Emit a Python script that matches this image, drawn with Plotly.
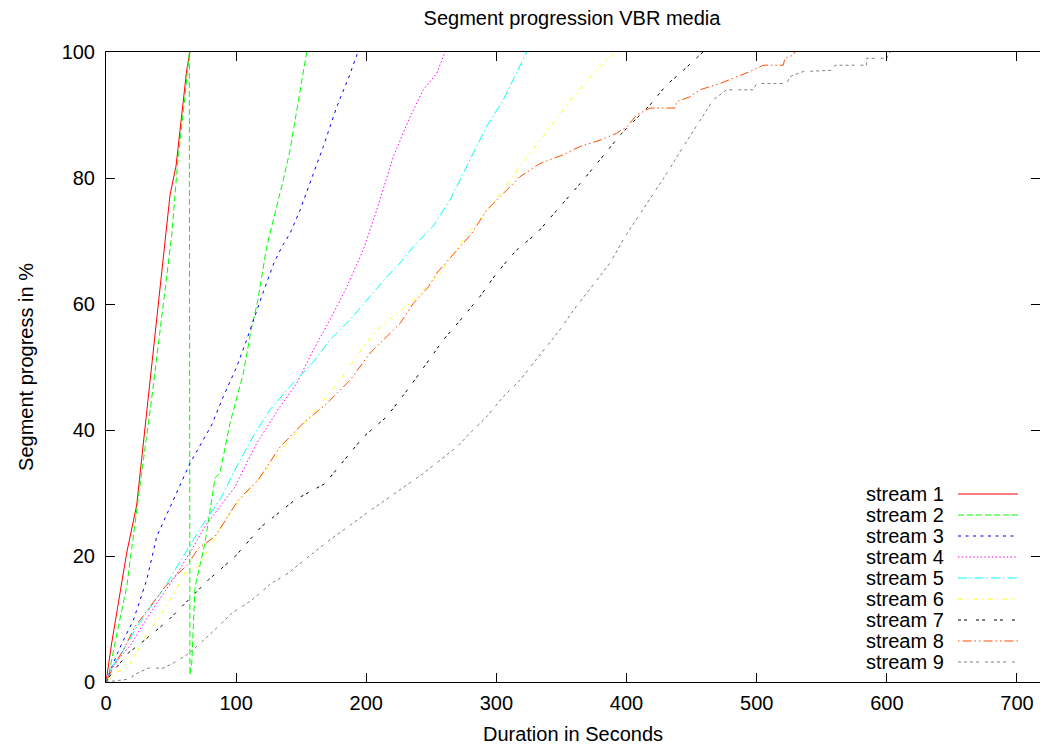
import plotly.graph_objects as go

# ---------------- data ----------------
names = ["stream 1", "stream 2", "stream 3", "stream 4", "stream 5",
         "stream 6", "stream 7", "stream 8", "stream 9"]

s1_x = [0, 0.5, 4.4, 15.9, 23.6, 32.3, 45.3, 49.2, 53.8, 62.0, 64.5]
s1_y = [0, 0.8, 6.2, 20.5, 28.1, 44.8, 70.2, 77.3, 81.9, 97.1, 100]

s2_x = [0, 1.8, 6.9, 15.9, 27.4, 35.0, 50.4, 54.8, 60.7, 63.2, 64.0, 64.5,
        65.9, 68.4, 76.1, 83.8, 87.6, 95.3, 105.5, 111.9, 116.3, 123.5, 131.2,
        136.2, 141.4, 147.8, 154.2]
s2_y = [0, 0.8, 6.2, 15.1, 33.2, 44.8, 70.7, 81.8, 92.9, 98.7, 100, 1.1,
        3.0, 15.1, 22.1, 32.4, 33.2, 41.1, 49.0, 56.3, 60.2, 69.1, 75.4,
        79.7, 84.4, 92.4, 100]

s3_x = [0, 1.8, 5.6, 12.1, 21.0, 31.3, 39.0, 59.4, 64.5, 81.2, 90.1, 100.4,
        108.1, 120.5, 129.0, 135.5, 141.4, 149.1, 156.8, 167.0, 177.3, 186.2, 193.6]
s3_y = [0, 0.8, 3.0, 6.1, 9.8, 16.2, 23.1, 32.6, 34.7, 40.8, 45.3, 50.0,
        54.3, 61.7, 66.5, 69.2, 71.2, 74.9, 79.2, 85.0, 91.3, 95.8, 100]

s4_x = [0, 1.8, 6.9, 19.7, 27.4, 39.0, 53.0, 65.9, 76.1, 99.1, 115.8, 133.7,
        146.5, 159.3, 172.1, 185.0, 197.7, 208.0, 220.8, 233.6, 243.8, 254.1, 260.5]
s4_y = [0, 1.4, 3.0, 6.1, 8.8, 12.5, 16.7, 21.0, 24.7, 31.0, 37.9, 43.7,
        47.4, 52.7, 57.5, 62.7, 68.6, 74.9, 83.4, 89.7, 94.0, 96.6, 100]

s5_x = [0, 4.4, 12.1, 22.3, 32.5, 45.3, 60.7, 73.5, 88.9, 99.1, 114.5, 126.0,
        141.4, 159.3, 172.1, 187.5, 202.9, 215.7, 225.9, 236.1, 251.5, 264.3,
        279.7, 292.5, 305.3, 315.6, 323.3]
s5_y = [0, 2.4, 4.6, 8.3, 11.4, 15.1, 20.4, 24.7, 29.4, 33.7, 39.5, 43.2,
        46.9, 50.8, 54.3, 57.5, 61.2, 64.3, 66.5, 69.1, 72.4, 76.5,
        82.9, 88.2, 92.4, 96.6, 100]

s6_x = [0, 6.9, 17.1, 28.7, 41.5, 49.2, 60.7, 70.9, 96.6, 120.9, 138.9, 159.3,
        179.8, 197.7, 210.5, 233.6, 256.6, 277.2, 295.1, 310.4, 325.8, 343.7,
        359.1, 374.5, 391.1]
s6_y = [0, 1.4, 2.4, 6.7, 10.4, 13.0, 17.3, 18.3, 27.3, 33.1, 37.9, 42.7,
        47.9, 53.2, 56.4, 60.1, 64.9, 71.0, 75.4, 79.7, 83.9, 88.7,
        92.9, 96.6, 100]

s7_x = [0, 4.4, 17.1, 30.0, 47.9, 63.2, 78.6, 99.1, 119.6, 145.2, 168.3, 197.7,
        215.7, 233.6, 259.2, 274.6, 287.4, 300.2, 315.6, 330.9, 351.4, 366.8,
        379.6, 395.0, 418.0, 430.8, 441.1, 456.4, 458.7]
s7_y = [0, 1.4, 4.6, 6.7, 9.8, 13.0, 16.2, 19.9, 24.7, 28.9, 31.5, 38.9,
        42.1, 46.9, 54.3, 58.0, 61.2, 64.9, 68.6, 71.2, 76.0, 79.7,
        82.9, 86.8, 91.6, 94.8, 96.6, 99.5, 100]

s8_x = [0, 4.4, 14.6, 22.3, 37.7, 45.3, 63.2, 70.9, 83.8, 101.7, 117.0, 133.7,
        151.6, 169.6, 187.5, 202.9, 213.1, 225.9, 236.1, 247.7, 254.1, 269.5,
        281.0, 292.5, 302.8, 318.1, 333.5, 351.4, 364.2, 379.6, 392.4, 400.1,
        407.8, 418.0, 437.2, 438.5, 448.8, 456.4, 471.8, 482.0, 494.8, 505.1,
        520.4, 521.7, 528.1, 529.4]
s8_y = [0, 1.9, 5.6, 8.8, 13.0, 15.1, 18.8, 21.2, 23.1, 28.9, 32.1, 37.3,
        41.1, 44.2, 47.9, 52.2, 54.3, 56.9, 60.1, 62.7, 64.9, 68.6,
        71.2, 74.9, 77.0, 80.2, 82.3, 83.7, 85.0, 86.0, 87.1, 88.1,
        90.0, 91.1, 91.1, 92.1, 92.9, 94.0, 95.0, 95.8, 96.9, 97.9,
        97.9, 99.0, 99.5, 100]

s9_x = [0, 19.5, 21.0, 32.5, 44.0, 51.7, 62.0, 72.2, 86.3, 96.6, 112.0, 127.3,
        140.1, 155.5, 168.3, 205.0, 243.8, 256.6, 269.5, 282.2, 292.5, 305.3,
        318.1, 328.3, 338.6, 348.8, 359.1, 369.4, 379.6, 387.3, 398.8, 415.5,
        430.8, 443.6, 456.4, 466.6, 476.9, 497.4, 500.0, 523.0, 525.6, 535.8,
        558.9, 560.2, 584.5, 584.5, 599.9, 602.5]
s9_y = [0, 0.5, 1.1, 2.2, 2.2, 3.0, 4.3, 6.1, 8.8, 10.9, 13.0, 15.7,
        17.3, 19.9, 22.0, 27.5, 33.1, 35.2, 37.3, 40.0, 42.1, 45.3,
        47.9, 50.6, 53.2, 55.9, 59.0, 61.7, 64.3, 66.5, 70.7, 76.0,
        80.7, 85.0, 89.2, 92.4, 94.0, 94.0, 95.0, 95.0, 96.1, 96.9,
        97.1, 97.9, 97.9, 99.0, 99.0, 100]

xs = [s1_x, s2_x, s3_x, s4_x, s5_x, s6_x, s7_x, s8_x, s9_x]
ys = [s1_y, s2_y, s3_y, s4_y, s5_y, s6_y, s7_y, s8_y, s9_y]

x_ticks = [0, 100, 200, 300, 400, 500, 600, 700]
y_ticks = [0, 20, 40, 60, 80, 100]

# ---------------- styles ----------------
colors = ["#ff0000", "#00ff00", "#0000ff", "#ff00ff", "#00ffff",
          "#ffff00", "#000000", "#ff4d00", "#808080"]
dashes = ["solid", "6px,3px", "3px,4.5px", "1.5px,2.25px",
          "9px,3px,1.5px,3px", "4.5px,4.5px,1.5px,4.5px",
          "3px,3px,3px,9px", "1.5px,3px,9px,3px,1.5px,3px",
          "3px,3px,3px,3px,3px,3px,3px,6px"]
FONT = "Liberation Sans, Arial, Helvetica, sans-serif"

fig = go.Figure()
for n, x, y, c, d in zip(names, xs, ys, colors, dashes):
    fig.add_trace(go.Scatter(x=x, y=y, mode="lines", name=n,
                             line=dict(color=c, width=1, dash=d),
                             showlegend=False))

# custom gnuplot-style key: text on the left, sample on the right
key_top = (682 - 494) / 630.0
key_step = 21 / 630.0
for i, (n, c, d) in enumerate(zip(names, colors, dashes)):
    yy = key_top - i * key_step
    fig.add_annotation(x=(946 - 106) / 934.0, y=yy, xref="paper", yref="paper",
                       text=n, showarrow=False, xanchor="right", yanchor="middle",
                       font=dict(family=FONT, size=20, color="black"))
    fig.add_shape(type="line", xref="paper", yref="paper",
                  x0=(958 - 106) / 934.0, x1=(1018 - 106) / 934.0, y0=yy, y1=yy,
                  line=dict(color=c, width=1, dash=d))

fig.update_layout(
    width=1040, height=745,
    margin=dict(l=106, r=0, t=52, b=63),
    paper_bgcolor="white", plot_bgcolor="white",
    font=dict(family=FONT, size=20, color="black"),
    title=dict(text="Segment progression VBR media", x=(572) / 1040.0, xanchor="center",
               y=1 - 18 / 745.0, yanchor="middle", yref="container",
               font=dict(family=FONT, size=20, color="black")),
    xaxis=dict(range=[0, 934 / 1.3014], tickvals=x_ticks, ticks="inside", ticklen=9,
               tickwidth=1, tickcolor="black", showline=True, linecolor="black",
               linewidth=1, mirror="ticks", showgrid=False, zeroline=False,
               ticklabelstandoff=3,
               title=dict(text="Duration in Seconds", font=dict(family=FONT, size=20))),
    yaxis=dict(range=[0, 100], tickvals=y_ticks, ticks="inside", ticklen=9,
               tickwidth=1, tickcolor="black", showline=True, linecolor="black",
               linewidth=1, mirror="ticks", showgrid=False, zeroline=False,
               ticklabelstandoff=6,
               title=dict(text="Segment progress in %", standoff=22,
                          font=dict(family=FONT, size=20))),
)

fig.write_html("out.html")
